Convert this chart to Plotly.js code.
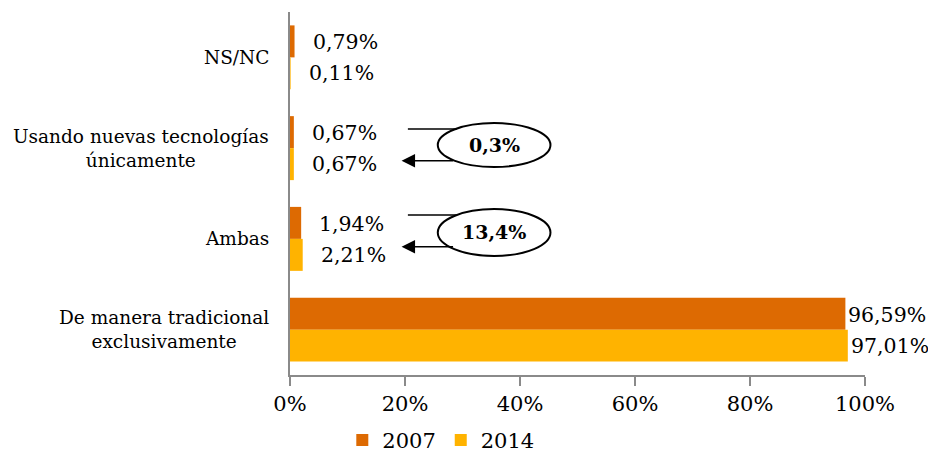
<!DOCTYPE html>
<html>
<head>
<meta charset="utf-8">
<script src="https://cdn.plot.ly/plotly-3.0.1.min.js"></script>
<style>html,body{margin:0;padding:0;background:#fff;}#chart{width:928px;height:452px;}</style>
</head>
<body>
<div id="chart"></div>
<script>
// ---- data ----
const categories = ['NS/NC', 'Usando nuevas tecnologías<br>únicamente', 'Ambas', 'De manera tradicional<br>exclusivamente'];
const series2007 = [0.79, 0.67, 1.94, 96.59];
const series2014 = [0.11, 0.67, 2.21, 97.01];
const seriesNames = ['2007', '2014'];
const changeLabels = ['0,3%', '13,4%'];
const xTickVals = [0, 20, 40, 60, 80, 100];
const xTickText = ['0%', '20%', '40%', '60%', '80%', '100%'];

// ---- style ----
const FONT = 'DejaVu Serif, Georgia, serif';
const colors = ['#DD6A02', '#FFB300'];
const fmt = v => v.toFixed(2).replace('.', ',') + '%';

const traces = [series2007, series2014].map((vals, i) => ({
  type: 'bar',
  orientation: 'h',
  name: seriesNames[i],
  x: vals,
  y: categories,
  marker: {color: colors[i]},
  hoverinfo: 'skip'
}));

const annotations = [];
// category labels (centered multi-line)
categories.forEach(c => annotations.push({
  xref: 'paper', yref: 'y', x: 0, y: c, xshift: -19,
  xanchor: 'right', yanchor: 'middle', align: 'center',
  text: c, showarrow: false,
  font: {family: FONT, size: 18.5, color: '#000'}
}));
// data labels
[series2007, series2014].forEach((vals, i) => {
  vals.forEach((v, j) => annotations.push({
    xref: 'x', yref: 'y', x: v, y: categories[j],
    xanchor: 'left', yanchor: 'middle',
    xshift: v > 50 ? 1 : 16, yshift: i === 0 ? 15 : -16,
    text: fmt(v), showarrow: false,
    font: {family: FONT, size: 20.5, color: '#000'}
  }));
});

// callouts (ellipse + lines + arrow)
const callouts = [
  {yTop: 0.694, yBot: 0.573, yLine: 0.678, yArrow: 0.590, yText: 0.634},
  {yTop: 0.457, yBot: 0.328, yLine: 0.441, yArrow: 0.353, yText: 0.394}
];
const shapes = [];
callouts.forEach((c, k) => {
  shapes.push({type: 'line', xref: 'x', yref: 'paper', x0: 20.5, x1: 29, y0: c.yLine, y1: c.yLine,
    line: {color: '#000', width: 1.5}});
  shapes.push({type: 'circle', xref: 'x', yref: 'paper', x0: 25.7, x1: 45.3, y0: c.yBot, y1: c.yTop,
    line: {color: '#000', width: 2}, fillcolor: 'rgba(255,255,255,0)'});
  annotations.push({xref: 'x', yref: 'paper', x: 19.4, y: c.yArrow, ax: 53, ay: 0,
    axref: 'pixel', ayref: 'pixel', text: '', showarrow: true,
    arrowhead: 2, arrowsize: 1.8, arrowwidth: 1.5, arrowcolor: '#000'});
  annotations.push({xref: 'x', yref: 'paper', x: 35.5, y: c.yText, xanchor: 'center', yanchor: 'middle',
    text: '<b>' + changeLabels[k] + '</b>', showarrow: false,
    font: {family: FONT, size: 19, color: '#000'}});
});

const layout = {
  width: 928, height: 452,
  margin: {l: 290, r: 63, t: 12, b: 77, autoexpand: false},
  paper_bgcolor: '#fff', plot_bgcolor: '#fff',
  barmode: 'group', bargap: 0.295, bargroupgap: 0,
  showlegend: true,
  legend: {orientation: 'h', xref: 'container', yref: 'container', x: 0.475, xanchor: 'center',
    y: 0.026, yanchor: 'middle',
    font: {family: FONT, size: 21, color: '#000'}, itemwidth: 30, traceorder: 'normal'},
  xaxis: {range: [0, 100], tickvals: xTickVals, ticktext: xTickText, showgrid: false, zeroline: false,
    showline: true, linecolor: '#8a8a8a', linewidth: 2, ticks: 'outside', ticklen: 9, tickwidth: 1.5,
    tickcolor: '#8a8a8a', tickfont: {family: FONT, size: 21, color: '#000'}, fixedrange: true},
  yaxis: {type: 'category', range: [3.5, -0.5], showticklabels: false, showgrid: false, zeroline: false,
    showline: true, linecolor: '#8a8a8a', linewidth: 2, ticks: '', fixedrange: true},
  annotations: annotations,
  shapes: shapes,
  font: {family: FONT}
};

Plotly.newPlot('chart', traces, layout, {displayModeBar: false, staticPlot: true});
</script>
</body>
</html>
